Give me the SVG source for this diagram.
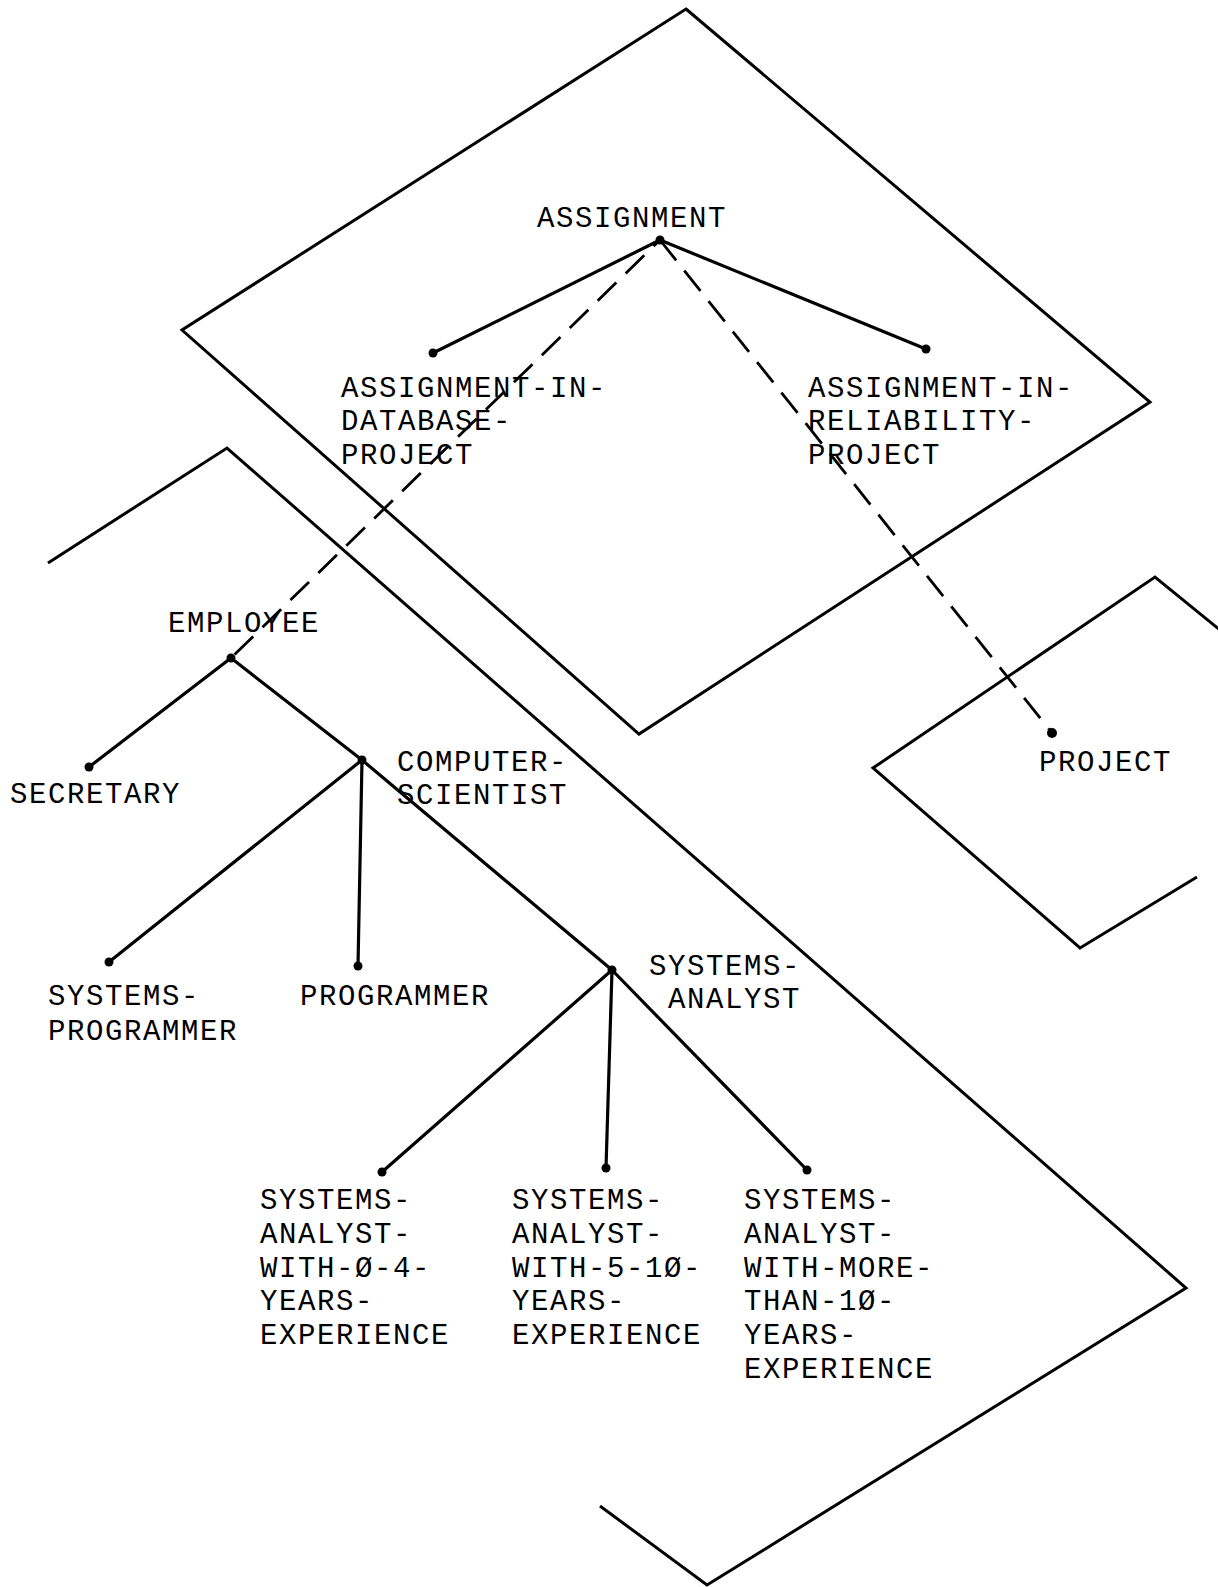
<svg xmlns="http://www.w3.org/2000/svg" width="1218" height="1587" viewBox="0 0 1218 1587">
<style>
.plane{fill:none;stroke:#000;stroke-width:3;stroke-linejoin:miter}
.edge{fill:none;stroke:#000;stroke-width:3.2;stroke-linecap:round}
.dash{fill:none;stroke:#000;stroke-width:2.8;stroke-dasharray:26 13}
.dot{fill:#000}
text{font-family:"Liberation Mono","DejaVu Sans Mono",monospace;font-size:29px;letter-spacing:1.6px;fill:#000}
</style>
<rect width="1218" height="1587" fill="#fff"/>
<g id="planes">
<polygon class="plane" points="686,9 1150,402 639,734 182,330"/>
<polyline class="plane" points="48,563 227,448 1186,1288 707,1585 600,1506"/>
<polyline class="plane" points="1220,630 1155,577 873,768 1080,948 1197,877"/>
</g>
<g id="connectors">
<line class="edge" x1="660" y1="240" x2="433" y2="353"/>
<line class="edge" x1="660" y1="240" x2="926" y2="349"/>
<line class="dash" x1="660" y1="240" x2="231" y2="658" stroke-dashoffset="-22"/>
<line class="dash" x1="660" y1="240" x2="1052" y2="733"/>
<line class="edge" x1="231" y1="658" x2="89" y2="767"/>
<line class="edge" x1="231" y1="658" x2="362" y2="760"/>
<line class="edge" x1="362" y1="760" x2="109" y2="962"/>
<line class="edge" x1="362" y1="760" x2="358" y2="966"/>
<line class="edge" x1="362" y1="760" x2="612" y2="970"/>
<line class="edge" x1="612" y1="970" x2="382" y2="1172"/>
<line class="edge" x1="612" y1="970" x2="606" y2="1168"/>
<line class="edge" x1="612" y1="970" x2="807" y2="1170"/>
</g>
<g id="assignment"><circle class="dot" cx="660" cy="240" r="4.5"/><text x="537" y="227">ASSIGNMENT</text></g>
<g id="assignment-in-database-project"><circle class="dot" cx="433" cy="353" r="4.5"/><text x="341" y="397">ASSIGNMENT-IN-<tspan x="341" y="430">DATABASE-</tspan><tspan x="341" y="464">PROJECT</tspan></text></g>
<g id="assignment-in-reliability-project"><circle class="dot" cx="926" cy="349" r="4.5"/><text x="808" y="397">ASSIGNMENT-IN-<tspan x="808" y="430">RELIABILITY-</tspan><tspan x="808" y="464">PROJECT</tspan></text></g>
<g id="project"><circle class="dot" cx="1052" cy="733" r="5"/><text x="1039" y="771">PROJECT</text></g>
<g id="employee"><circle class="dot" cx="231" cy="658" r="4.5"/><text x="168" y="632">EMPLOYEE</text></g>
<g id="secretary"><circle class="dot" cx="89" cy="767" r="4.5"/><text x="10" y="803">SECRETARY</text></g>
<g id="computer-scientist"><circle class="dot" cx="362" cy="760" r="4.5"/><text x="397" y="771">COMPUTER-<tspan x="397" y="804">SCIENTIST</tspan></text></g>
<g id="systems-programmer"><circle class="dot" cx="109" cy="962" r="4.5"/><text x="48" y="1005">SYSTEMS-<tspan x="48" y="1040">PROGRAMMER</tspan></text></g>
<g id="programmer"><circle class="dot" cx="358" cy="966" r="4.5"/><text x="300" y="1005">PROGRAMMER</text></g>
<g id="systems-analyst"><circle class="dot" cx="612" cy="970" r="4.5"/><text x="649" y="975">SYSTEMS-<tspan x="668" y="1008">ANALYST</tspan></text></g>
<g id="sa-0-4"><circle class="dot" cx="382" cy="1172" r="4.5"/><text x="260" y="1209">SYSTEMS-<tspan x="260" y="1243">ANALYST-</tspan><tspan x="260" y="1277">WITH-Ø-4-</tspan><tspan x="260" y="1310">YEARS-</tspan><tspan x="260" y="1344">EXPERIENCE</tspan></text></g>
<g id="sa-5-10"><circle class="dot" cx="606" cy="1168" r="4.5"/><text x="512" y="1209">SYSTEMS-<tspan x="512" y="1243">ANALYST-</tspan><tspan x="512" y="1277">WITH-5-1Ø-</tspan><tspan x="512" y="1310">YEARS-</tspan><tspan x="512" y="1344">EXPERIENCE</tspan></text></g>
<g id="sa-more-10"><circle class="dot" cx="807" cy="1170" r="4.5"/><text x="744" y="1209">SYSTEMS-<tspan x="744" y="1243">ANALYST-</tspan><tspan x="744" y="1277">WITH-MORE-</tspan><tspan x="744" y="1310">THAN-1Ø-</tspan><tspan x="744" y="1344">YEARS-</tspan><tspan x="744" y="1378">EXPERIENCE</tspan></text></g>
</svg>
